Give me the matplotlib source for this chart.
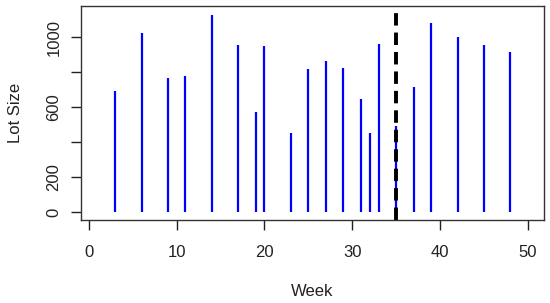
import matplotlib.pyplot as plt

plt.rcParams['font.family'] = ['Liberation Sans', 'DejaVu Sans']

# Lot sizes by week
weeks = [3, 6, 9, 11, 14, 17, 19, 20, 23, 25, 27, 29, 31, 32, 33, 35, 37, 39, 42, 45, 48]
lot_size = [693, 1027, 769, 777, 1128, 956, 572, 950, 452, 819, 864, 824, 645, 452,
            964, 494, 716, 1082, 1004, 956, 914]
cutoff_week = 35
x_ticks = [0, 10, 20, 30, 40, 50]
y_ticks = [0, 200, 400, 600, 800, 1000]
y_labels = ['0', '200', '', '600', '', '1000']

fig = plt.figure(figsize=(5.5, 3.03), dpi=100)
ax = fig.add_axes([81/550, 1 - 220/303, (544-81)/550, (220-5.7)/303])

ax.vlines(weeks, 0, lot_size, colors='blue', linewidth=1.6)
ax.axvline(cutoff_week, color='black', linewidth=2.8, linestyle=(0, (3.2, 1.8)))

ax.set_xlim(-0.9, 51.85)
ax.set_ylim(-46, 1181)
ax.set_xticks(x_ticks)
ax.set_yticks(y_ticks)
ax.set_yticklabels(y_labels, rotation=90, va='center')
ax.tick_params(direction='out', length=7, width=1, colors='#222222', labelsize=12)
ax.tick_params(axis='x', pad=11)
ax.tick_params(axis='y', pad=7)
for s in ax.spines.values():
    s.set_color('#333333')
    s.set_linewidth(1)

ax.set_xlabel('Week', fontsize=12, color='#222222', labelpad=17)
ax.set_ylabel('Lot Size', fontsize=12, color='#222222', labelpad=17)

fig.savefig('out.png', dpi=100)
